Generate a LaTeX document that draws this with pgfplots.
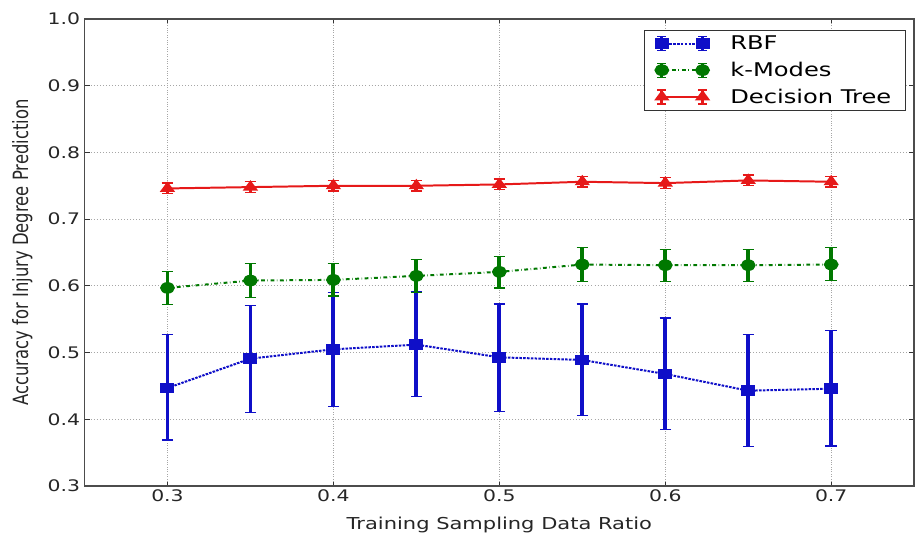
\documentclass[border=0pt]{standalone}
\usepackage{fontspec}
\setmainfont{DejaVu Sans}
\usepackage{pgfplots}
\pgfplotsset{compat=1.18}
\definecolor{rbf}{RGB}{15,15,200}
\definecolor{kmo}{RGB}{0,120,0}
\definecolor{dtr}{RGB}{230,25,25}

% x, mean, err+ , err-
\pgfplotstableread{
x    y     ep    em
0.30 0.447 0.080 0.078
0.35 0.491 0.080 0.081
0.40 0.505 0.085 0.086
0.45 0.512 0.079 0.078
0.50 0.493 0.080 0.081
0.55 0.489 0.084 0.083
0.60 0.468 0.084 0.083
0.65 0.443 0.084 0.084
0.70 0.446 0.087 0.086
}\rbfdata
\pgfplotstableread{
x    y     ep    em
0.30 0.597 0.025 0.025
0.35 0.608 0.026 0.025
0.40 0.609 0.025 0.024
0.45 0.615 0.025 0.025
0.50 0.621 0.023 0.024
0.55 0.632 0.025 0.025
0.60 0.631 0.024 0.024
0.65 0.631 0.024 0.024
0.70 0.632 0.025 0.024
}\kmodata
\pgfplotstableread{
x    y     ep    em
0.30 0.746 0.008 0.008
0.35 0.748 0.008 0.008
0.40 0.750 0.008 0.008
0.45 0.750 0.008 0.008
0.50 0.752 0.008 0.008
0.55 0.756 0.008 0.008
0.60 0.754 0.008 0.008
0.65 0.758 0.008 0.008
0.70 0.756 0.008 0.008
}\dtrdata

\begin{document}
\scalebox{1.28}[1]{%
\begin{tikzpicture}
\begin{axis}[
  at={(0,0)}, anchor=south west,
  scale only axis, width=652pt, height=470pt,
  xmin=0.25, xmax=0.75, ymin=0.3, ymax=1.0,
  xtick={0.3,0.4,...,0.7}, ytick={0.3,0.4,...,1.0},
  xticklabel style={/pgf/number format/.cd,fixed,fixed zerofill,precision=1},
  yticklabel style={/pgf/number format/.cd,fixed,fixed zerofill,precision=1},
  /pgf/number format/assume math mode=true,
  ticklabel style={font=\fontsize{16}{19}\selectfont, text=black!85},
  tick align=inside, major tick length=4pt,
  tick style={black!80, line width=0.8pt},
  axis line style={black!70, line width=1.3pt},
  grid=major,
  major grid style={dotted, black!35, line width=0.8pt},
  xlabel={Training Sampling Data Ratio},
  ylabel={Accuracy for Injury Degree Prediction},
  label style={font=\fontsize{16.5}{19}\selectfont, text=black!85},
  xlabel style={at={(axis description cs:0.5,-0.083)}, anchor=center},
  ylabel style={at={(axis description cs:-0.075,0.5)}, anchor=center},
  legend style={at={(rel axis cs:0.990,0.977)}, anchor=north east,
    draw=black!80, line width=0.9pt, font=\fontsize{19}{22}\selectfont,
    row sep=7pt, column sep=15pt, inner xsep=9pt, inner ysep=4pt},
  legend cell align=left,
  legend image code/.code={
    \draw[mark repeat=2,mark phase=1,#1] plot coordinates {(0pt,0pt) (16pt,0pt) (32pt,0pt)};
    \draw[#1, solid, mark=none, line width=2.5pt] (0pt,-7pt) -- (0pt,7pt) (32pt,-7pt) -- (32pt,7pt);
    \draw[#1, solid, mark=none, line width=1.2pt] (-3.5pt,7pt) -- (3.5pt,7pt) (-3.5pt,-7pt) -- (3.5pt,-7pt)
      (28.5pt,7pt) -- (35.5pt,7pt) (28.5pt,-7pt) -- (35.5pt,-7pt);
  },
  error bars/y dir=both, error bars/y explicit,
  error bars/error bar style={solid, line width=3pt},
  error bars/error mark options={solid, rotate=90, mark size=4.5pt, line width=1.3pt},
]
\addplot[rbf, densely dotted, line width=2pt, mark=square*, mark size=4.5pt,
  mark options={solid}]
  table[x=x, y=y, y error plus=ep, y error minus=em] {\rbfdata};
\addlegendentry{RBF}
\addplot[kmo, dash dot, line width=2pt, mark=*, mark size=4.8pt,
  mark options={solid}]
  table[x=x, y=y, y error plus=ep, y error minus=em] {\kmodata};
\addlegendentry{k-Modes}
\addplot[dtr, solid, line width=2pt, mark=triangle*, mark size=5pt]
  table[x=x, y=y, y error plus=ep, y error minus=em] {\dtrdata};
\addlegendentry{Decision Tree}
\end{axis}
\path[use as bounding box] (-66.4pt,-47pt) rectangle (648.4pt,489pt);
\end{tikzpicture}}
\end{document}
